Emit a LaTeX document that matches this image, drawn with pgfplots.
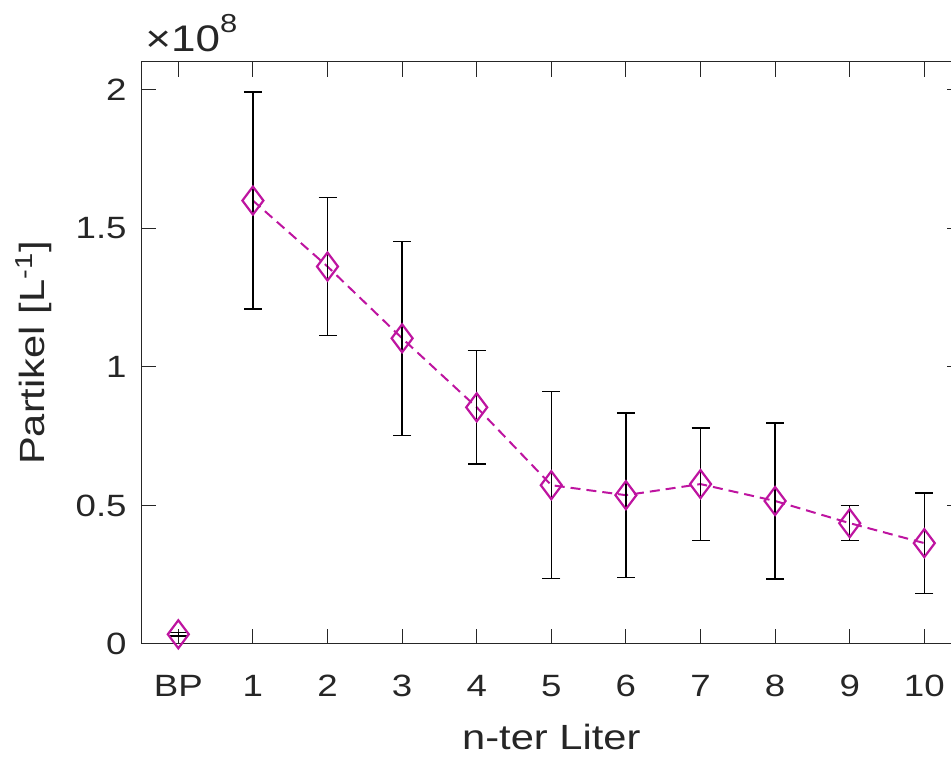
\documentclass[border=0pt]{standalone}
\usepackage{pgfplots}
\pgfplotsset{compat=1.18}
\usepackage{pgfplotstable}
\usepackage{fontspec}
\setmainfont[FakeStretch=1.19]{Liberation Sans}
\definecolor{axgray}{RGB}{38,38,38}
\definecolor{mag}{RGB}{190,20,160}

\pgfplotstableread{
x y e
0 0.035e8 0.006e8
}\bpdata
\pgfplotstableread{
x y e
1 1.600e8 0.391e8
2 1.362e8 0.249e8
3 1.103e8 0.350e8
4 0.854e8 0.205e8
5 0.573e8 0.337e8
6 0.537e8 0.296e8
7 0.577e8 0.203e8
8 0.516e8 0.281e8
9 0.436e8 0.063e8
10 0.364e8 0.181e8
}\literdata

\begin{document}
\begin{tikzpicture}
\begin{axis}[
  at={(70.5pt,57pt)}, anchor=south west,
  scale only axis,
  width=410.3pt, height=291pt,
  xmin=-0.5, xmax=10.5,
  ymin=0, ymax=2.1e8,
  xtick={0,1,2,3,4,5,6,7,8,9,10},
  xticklabels={BP,1,2,3,4,5,6,7,8,9,10},
  ytick={0,0.5e8,1e8,1.5e8,2e8},
  yticklabels={0,0.5,1,1.5,2},
  scaled y ticks=false,
  tick align=inside,
  major tick length=7.5pt,
  tick style={axgray, line width=0.5pt},
  axis line style={axgray, line width=0.5pt},
  tick label style={font=\fontsize{15.4}{18}\selectfont, text=axgray},
  xticklabel style={anchor=base, inner sep=0pt, yshift=-26.5pt},
  yticklabel style={anchor=east, inner sep=0pt, xshift=-7pt},
  xlabel={n-ter Liter},
  ylabel={Partikel [L\textsuperscript{-1}]},
  label style={font=\fontsize{17.5}{20}\selectfont, text=axgray},
  xlabel style={at={(rel axis cs:0.5,0)}, anchor=base, yshift=-53pt},
  ylabel style={at={(rel axis cs:0,0.5)}, anchor=base, yshift=48pt},
  clip=false,
]
\addplot[mag, line width=1pt, dash pattern=on 5pt off 3pt, mark=diamond, mark size=7pt,
  mark options={solid, line width=1.1pt}] table[x=x, y=y] {\literdata};
\addplot[mag, only marks, mark=diamond, mark size=7pt, mark options={solid, line width=1.1pt}]
  table[x=x, y=y] {\bpdata};
\addplot[black, draw=none, mark=none, forget plot,
  error bars/.cd, y dir=both, y explicit,
  error bar style={black, line width=0.7pt, solid},
  error mark options={black, mark size=4.5pt, line width=0.7pt, rotate=90}]
  table[x=x, y=y, y error=e] {\literdata};
\addplot[black, draw=none, mark=none, forget plot,
  error bars/.cd, y dir=both, y explicit,
  error bar style={black, line width=0.7pt, solid},
  error mark options={black, mark size=4.5pt, line width=0.7pt, rotate=90}]
  table[x=x, y=y, y error=e] {\bpdata};
\node[anchor=base west, inner sep=0pt, text=axgray] at ([xshift=2pt,yshift=5pt]rel axis cs:0,1)
  {\fontsize{18.5}{20}\selectfont ×10\raisebox{9.5pt}{\fontsize{13}{15}\selectfont 8}};
\end{axis}
\pgfresetboundingbox
\useasboundingbox (0,0) rectangle (475.5pt,379pt);
\end{tikzpicture}
\end{document}
